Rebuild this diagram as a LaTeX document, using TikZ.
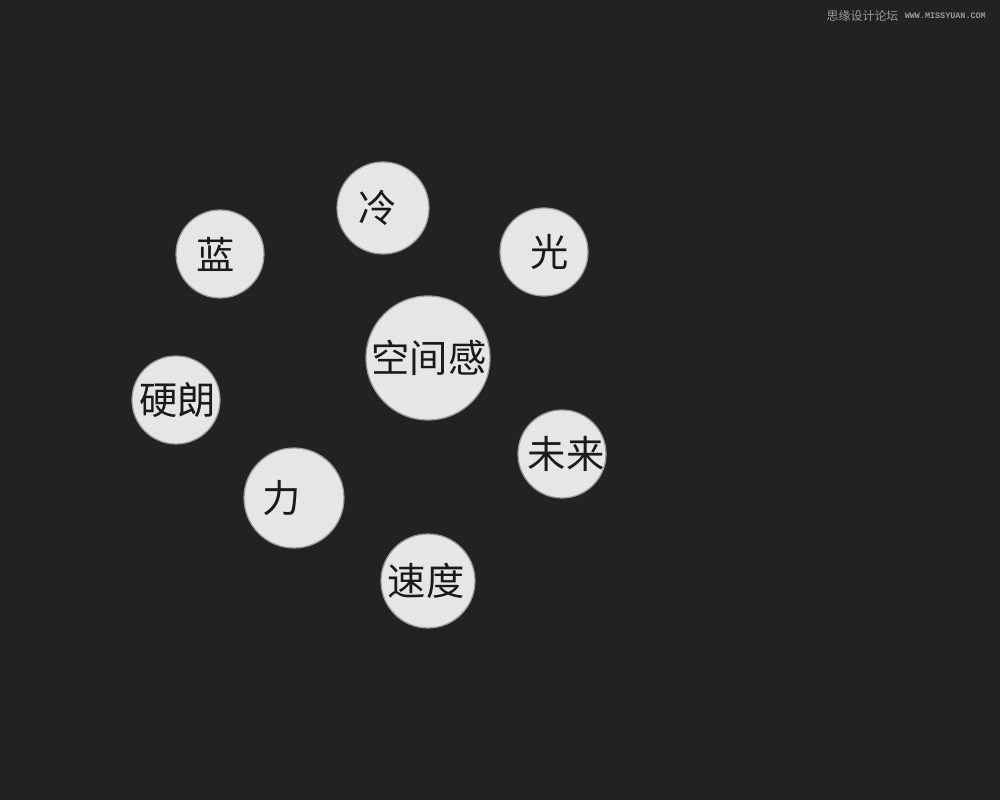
\documentclass[tikz,border=0pt]{standalone}
\usepackage{fontspec}
\newfontfamily\cjk{Noto Sans CJK SC}
\newfontfamily\markfont{Liberation Mono}
\usepackage{tikz}
\usetikzlibrary{positioning}

\definecolor{bgdark}{HTML}{232222}
\definecolor{bubblefill}{HTML}{E6E6E6}
\definecolor{wordcol}{HTML}{1A1A1A}
\definecolor{markcol}{HTML}{9A9A9A}

\begin{document}
\begin{tikzpicture}[
    x=0.1mm, y=-0.1mm,
    bubble/.style={
        circle, fill=bubblefill, draw=black!40, line width=0.35pt,
        minimum size=#1, inner sep=0pt
    },
    word/.style={
        font=\cjk\fontsize{10.9pt}{12pt}\selectfont, text=wordcol, inner sep=0pt
    },
    watermark/.style={font=\cjk\fontsize{3.4pt}{4pt}\selectfont, text=markcol, inner sep=0pt},
]

% Background
\fill[bgdark] (0,0) rectangle (1000,800);
\useasboundingbox (0,0) rectangle (1000,800);

% Centre word
\node[bubble=12.4mm, label={[word, xshift=0.1mm]center:空间感}] (space) at (428,358) {};

% Surrounding words
\node[bubble=9.2mm, label={[word, xshift=-0.5mm]center:冷}] (cold) at (383,208) {};
\node[bubble=8.8mm, label={[word, xshift=-0.4mm]center:蓝}] (blue) at (220,254) {};
\node[bubble=8.8mm, label={[word, xshift=0.6mm]center:光}] (light) at (544,252) {};
\node[bubble=8.8mm, label={[word, xshift=0.2mm]center:硬朗}] (tough) at (176,400) {};
\node[bubble=8.8mm, label={[word, xshift=0.4mm]center:未来}] (future) at (562,454) {};
\node[bubble=10.0mm, label={[word, xshift=-1.2mm]center:力}] (power) at (294,498) {};
\node[bubble=9.4mm, label={[word, xshift=-0.2mm]center:速度}] (speed) at (428,581) {};

% Watermark
\node[watermark, anchor=west] (markcn) at (826,16) {思缘设计论坛};
\node[watermark, right=0.5mm of markcn, font=\markfont\bfseries\fontsize{2.4pt}{3pt}\selectfont] (markurl) {WWW.MISSYUAN.COM};

\end{tikzpicture}
\end{document}
